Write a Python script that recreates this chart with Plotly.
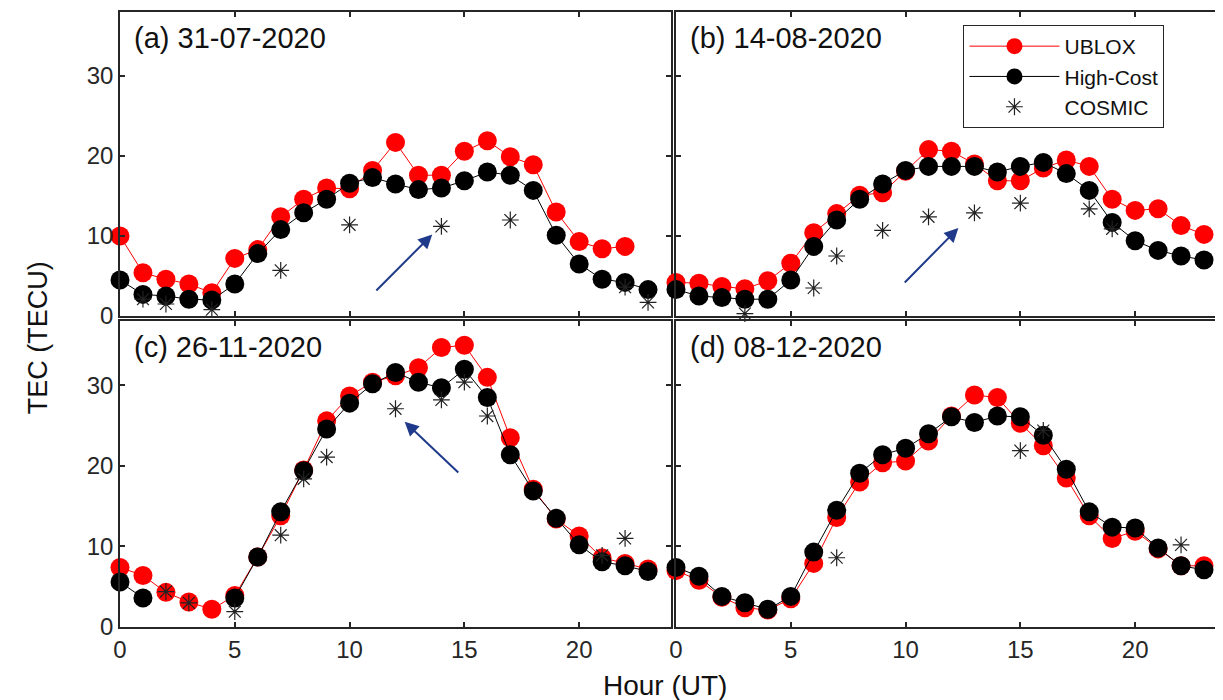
import plotly.graph_objects as go

hours = list(range(24))

# Panel (a) 31-07-2020
ublox_a = [10.0, 5.4, 4.6, 4.0, 2.9, 7.2, 8.3, 12.4, 14.6, 16.0, 15.9, 18.2, 21.7, 17.6, 17.6, 20.6, 21.9, 19.9, 18.9, 13.0, 9.3, 8.4, 8.7, None]
high_a = [4.5, 2.7, 2.5, 2.1, 2.0, 4.0, 7.8, 10.8, 12.9, 14.6, 16.6, 17.3, 16.5, 15.8, 16.0, 16.9, 18.0, 17.6, 15.7, 10.1, 6.5, 4.6, 4.2, 3.3]
cosmic_a_h = [1, 2, 4, 7, 10, 14, 17, 22, 23]
cosmic_a = [2.1, 1.5, 0.8, 5.7, 11.4, 11.2, 12.0, 3.6, 1.7]

# Panel (b) 14-08-2020
ublox_b = [4.2, 4.1, 3.7, 3.4, 4.4, 6.6, 10.4, 12.8, 15.1, 15.4, 18.1, 20.8, 20.6, 19.0, 16.9, 16.9, 18.5, 19.5, 18.7, 14.6, 13.2, 13.4, 11.3, 10.2]
high_b = [3.3, 2.5, 2.3, 2.1, 2.1, 4.5, 8.7, 12.0, 14.6, 16.5, 18.2, 18.7, 18.7, 18.7, 18.0, 18.7, 19.2, 17.8, 15.7, 11.7, 9.4, 8.2, 7.5, 7.0]
cosmic_b_h = [3, 6, 7, 9, 11, 13, 15, 18, 19]
cosmic_b = [0.3, 3.5, 7.5, 10.7, 12.4, 12.9, 14.1, 13.4, 10.9]

# Panel (c) 26-11-2020
ublox_c = [7.4, 6.4, 4.3, 3.1, 2.2, 3.9, 8.7, 13.8, 19.5, 25.6, 28.7, 30.4, 31.2, 32.2, 34.7, 35.0, 31.0, 23.5, 17.1, 13.4, 11.3, 8.6, 7.9, 7.2]
high_c = [5.6, 3.6, None, None, None, 3.6, 8.7, 14.3, 19.4, 24.6, 27.8, 30.2, 31.6, 30.4, 29.7, 32.0, 28.5, 21.4, 16.9, 13.5, 10.2, 8.1, 7.6, 6.9]
cosmic_c_h = [2, 3, 5, 7, 8, 9, 12, 14, 15, 16, 21, 22]
cosmic_c = [4.4, 3.0, 1.9, 11.4, 18.4, 21.1, 27.1, 28.2, 30.4, 26.2, 8.9, 11.0]

# Panel (d) 08-12-2020
ublox_d = [7.0, 5.8, 3.7, 2.4, 2.1, 3.5, 7.9, 13.6, 18.0, 20.4, 20.6, 23.1, 26.2, 28.8, 28.5, 25.3, 22.5, 18.5, 13.8, 11.0, 11.9, 9.7, 7.6, 7.6]
high_d = [7.4, 6.3, 3.8, 3.0, 2.2, 3.8, 9.3, 14.5, 19.1, 21.4, 22.2, 24.0, 26.1, 25.4, 26.2, 26.1, 23.8, 19.6, 14.3, 12.4, 12.3, 9.8, 7.6, 7.1]
cosmic_d_h = [7, 15, 16, 22]
cosmic_d = [8.6, 21.9, 24.4, 10.2]

panel_titles = ["(a) 31-07-2020", "(b) 14-08-2020", "(c) 26-11-2020", "(d) 08-12-2020"]
x_ticks = [0, 5, 10, 15, 20]
y_ticks = [0, 10, 20, 30]

# arrows: (tail_x, tail_y, tip_x, tip_y) per panel
arrows = {0: (11.1, 3.0, 13.6, 10.2), 1: (9.9, 4.0, 12.3, 11.0), 2: (14.8, 19.0, 12.4, 25.5)}

FONT = "Liberation Sans, Arial, sans-serif"
AXC = "#262626"
RED = "#FF0000"

panels = [
    (ublox_a, high_a, cosmic_a_h, cosmic_a),
    (ublox_b, high_b, cosmic_b_h, cosmic_b),
    (ublox_c, high_c, cosmic_c_h, cosmic_c),
    (ublox_d, high_d, cosmic_d_h, cosmic_d),
]

fig = go.Figure()

for i, (ub, hc, ch, cv) in enumerate(panels):
    xa = "x" if i == 0 else f"x{i+1}"
    ya = "y" if i == 0 else f"y{i+1}"
    show = i == 0
    fig.add_trace(go.Scatter(x=hours, y=ub, mode="lines+markers", name="UBLOX",
                             line=dict(color=RED, width=1),
                             marker=dict(color=RED, size=19, symbol="circle"),
                             xaxis=xa, yaxis=ya, showlegend=show, cliponaxis=False,
                             connectgaps=False))
    fig.add_trace(go.Scatter(x=hours, y=hc, mode="lines+markers", name="High-Cost",
                             line=dict(color="black", width=1),
                             marker=dict(color="black", size=19, symbol="circle"),
                             xaxis=xa, yaxis=ya, showlegend=show, cliponaxis=False,
                             connectgaps=False))
    fig.add_trace(go.Scatter(x=ch, y=cv, mode="markers", name="COSMIC",
                             marker=dict(color="#222222", size=14, symbol="asterisk-open",
                                         line=dict(color="#222222", width=1.2)),
                             xaxis=xa, yaxis=ya, showlegend=show, cliponaxis=False))

# page body has an 8px margin: shrink figure and margins to compensate
OFF = 8
W, H = 1223 - OFF, 700 - OFF
L = 120 - OFF
T = 12 - OFF
B = H - (627 - OFF)
pw = W - L
ph = H - T - B
def px_x(p):
    return (p - OFF - L) / pw
def px_y(p):
    return (H - B - (p - OFF)) / ph

xdom_left = [0, px_x(672)]
xdom_right = [px_x(677), 1]
ydom_top = [px_y(316), 1]
ydom_bot = [0, px_y(321)]

axis_common = dict(showline=True, linecolor=AXC, linewidth=1.5, mirror="allticks",
                   ticks="inside", ticklen=5, tickwidth=1.5, tickcolor=AXC,
                   showgrid=False, zeroline=False,
                   tickfont=dict(family=FONT, size=24, color=AXC))

layout = dict(
    width=W, height=H,
    margin=dict(l=L, r=0, t=T, b=B),
    paper_bgcolor="white", plot_bgcolor="white",
    font=dict(family=FONT, color=AXC),
    legend=dict(x=px_x(965), y=px_y(25), xanchor="left", yanchor="top",
                bgcolor="white", bordercolor=AXC, borderwidth=1,
                font=dict(family=FONT, size=21, color="#111111"),
                itemwidth=90, tracegroupgap=0),
    showlegend=True,
)

xdoms = [xdom_left, xdom_right, xdom_left, xdom_right]
ydoms = [ydom_top, ydom_top, ydom_bot, ydom_bot]
xranges = [[0, 24], [0, 23.74], [0, 24], [0, 23.74]]
for i in range(4):
    xk = "xaxis" if i == 0 else f"xaxis{i+1}"
    yk = "yaxis" if i == 0 else f"yaxis{i+1}"
    ya_name = "y" if i == 0 else f"y{i+1}"
    xa_name = "x" if i == 0 else f"x{i+1}"
    layout[xk] = dict(axis_common, domain=xdoms[i], range=xranges[i], tickvals=x_ticks,
                      showticklabels=(i >= 2), anchor=ya_name)
    layout[yk] = dict(axis_common, domain=ydoms[i], range=[0, 38], tickvals=y_ticks,
                      showticklabels=(i % 2 == 0), anchor=xa_name)

fig.update_layout(**layout)

# panel titles
for i, t in enumerate(panel_titles):
    xa_name = "x" if i == 0 else f"x{i+1}"
    ya_name = "y" if i == 0 else f"y{i+1}"
    fig.add_annotation(text=t, xref=f"{xa_name} domain", yref=f"{ya_name} domain",
                       x=0.022, y=0.915, xanchor="left", yanchor="middle",
                       showarrow=False, font=dict(family=FONT, size=29, color="#111111"))

# arrows
for i, (tx, ty, hx, hy) in arrows.items():
    xa_name = "x" if i == 0 else f"x{i+1}"
    ya_name = "y" if i == 0 else f"y{i+1}"
    fig.add_annotation(x=hx, y=hy, ax=tx, ay=ty, xref=xa_name, yref=ya_name,
                       axref=xa_name, ayref=ya_name, text="", showarrow=True,
                       arrowhead=2, arrowsize=1.4, arrowwidth=2, arrowcolor="#1F3A8A")

# axis titles
fig.add_annotation(text="TEC (TECU)", xref="paper", yref="paper",
                   x=px_x(38), y=px_y(338), textangle=-90, showarrow=False,
                   xanchor="center", yanchor="middle",
                   font=dict(family=FONT, size=27, color="#111111"))
fig.add_annotation(text="Hour (UT)", xref="paper", yref="paper",
                   x=px_x(666), y=px_y(685), showarrow=False,
                   xanchor="center", yanchor="middle",
                   font=dict(family=FONT, size=28, color="#111111"))

fig.write_html("out.html")
